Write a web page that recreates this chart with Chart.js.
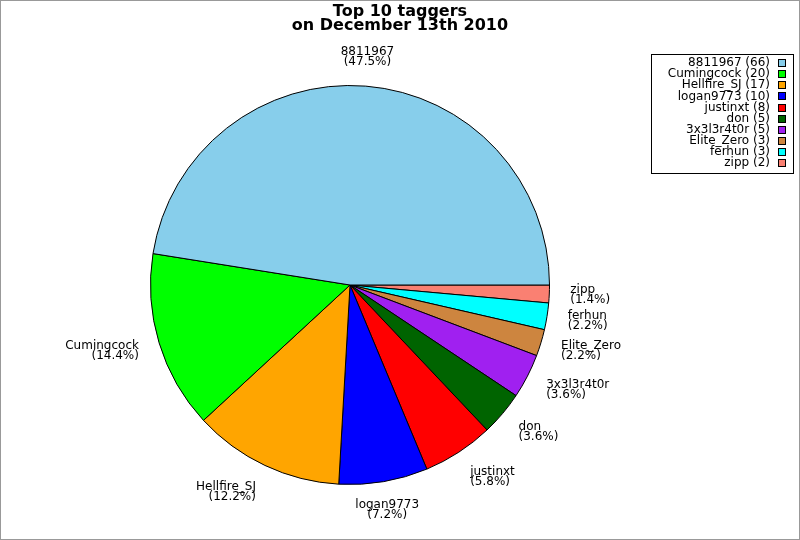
<!DOCTYPE html>
<html>
<head>
<meta charset="utf-8">
<script src="https://cdn.jsdelivr.net/npm/chart.js@4/dist/chart.umd.min.js"></script>
<style>
  html, body { margin: 0; padding: 0; background: #fff; }
  canvas { display: block; }
</style>
</head>
<body>
<canvas id="c" width="800" height="540"></canvas>
<script>
// ---- data ----
const titleLines = ["Top 10 taggers", "on December 13th 2010"];
const taggers = ["8811967", "Cumingcock", "Hellfire_SJ", "logan9773", "justinxt", "don", "3x3l3r4t0r", "Elite_Zero", "ferhun", "zipp"];
const tagCounts = [66, 20, 17, 10, 8, 5, 5, 3, 3, 2];
const sliceColors = ["#87CEEB", "#00FF00", "#FFA500", "#0000FF", "#FF0000", "#006400", "#A020F0", "#CD853F", "#00FFFF", "#FA8072"];

// The reference pie runs counter-clockwise from 3 o'clock; Chart.js runs clockwise,
// so feed the series reversed and start at 3 o'clock.
const revLabels = taggers.slice().reverse();
const revCounts = tagCounts.slice().reverse();
const revColors = sliceColors.slice().reverse();
const total = tagCounts.reduce((a, b) => a + b, 0);

const FONT = '"DejaVu Sans", sans-serif';

const decorPlugin = {
  id: 'decor',
  afterDraw(chart) {
    const ctx = chart.ctx;
    ctx.save();
    // frame
    ctx.strokeStyle = '#999';
    ctx.lineWidth = 1;
    ctx.strokeRect(0.5, 0.5, 799, 539);

    // title
    ctx.fillStyle = '#000';
    ctx.font = 'bold 16px ' + FONT;
    ctx.textAlign = 'center';
    ctx.textBaseline = 'alphabetic';
    ctx.fillText(titleLines[0], 400, 16);
    ctx.fillText(titleLines[1], 400, 30);

    // slice labels
    const meta = chart.getDatasetMeta(0);
    ctx.font = '12px ' + FONT;
    ctx.textBaseline = 'middle';
    meta.data.forEach((arc, i) => {
      const p = arc.getProps(['x', 'y', 'startAngle', 'endAngle', 'outerRadius'], true);
      const mid = (p.startAngle + p.endAngle) / 2;
      const R = p.outerRadius + 21;
      const c = Math.cos(mid), s = Math.sin(mid);
      const ax = p.x + R * c;
      const ay = p.y + R * s;
      const yc = ay + 8 * s;
      let align = 'center';
      if (c > 0.3) align = 'left';
      else if (c < -0.3) align = 'right';
      ctx.textAlign = align;
      const v = revCounts[i];
      const pct = '(' + (v / total * 100).toFixed(1) + '%)';
      ctx.fillText(revLabels[i], ax, yc - 5);
      ctx.fillText(pct, ax, yc + 5);
    });

    // legend
    const lx0 = 651, ly0 = 54, lx1 = 793, ly1 = 173;
    ctx.strokeStyle = '#000';
    ctx.lineWidth = 1;
    ctx.strokeRect(lx0 + 0.5, ly0 + 0.5, lx1 - lx0, ly1 - ly0);
    ctx.textAlign = 'right';
    ctx.textBaseline = 'middle';
    taggers.forEach((name, i) => {
      const y = 63 + i * 11.15;
      ctx.fillStyle = '#000';
      ctx.fillText(name + ' (' + tagCounts[i] + ')', 770, y);
      ctx.fillStyle = sliceColors[i];
      ctx.fillRect(778.5, Math.round(y - 4) + 0.5, 7, 7);
      ctx.strokeRect(778.5, Math.round(y - 4) + 0.5, 7, 7);
    });
    ctx.restore();
  }
};

new Chart(document.getElementById('c'), {
  type: 'pie',
  data: {
    labels: revLabels,
    datasets: [{
      data: revCounts,
      backgroundColor: revColors,
      borderColor: '#000',
      borderWidth: 1
    }]
  },
  options: {
    responsive: false,
    animation: false,
    rotation: 90,
    layout: { padding: { left: 150, right: 250, top: 85, bottom: 55 } },
    plugins: {
      legend: { display: false },
      title: { display: false },
      tooltip: { enabled: false }
    }
  },
  plugins: [decorPlugin]
});
</script>
</body>
</html>
